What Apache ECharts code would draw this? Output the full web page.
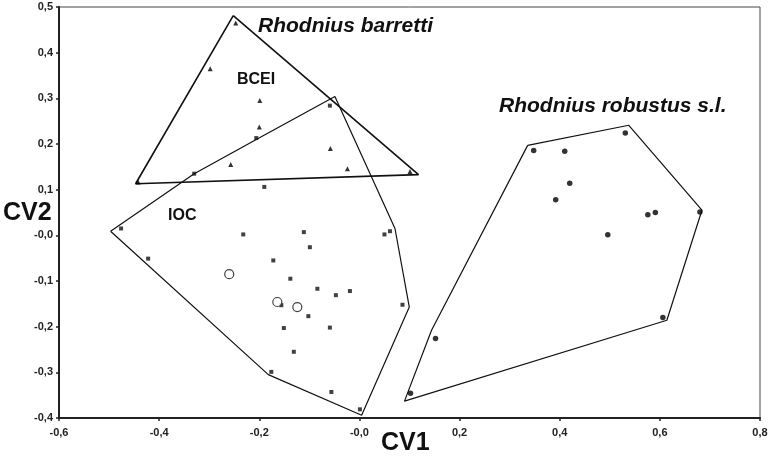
<!DOCTYPE html>
<html>
<head>
<meta charset="utf-8">
<script src="https://cdn.jsdelivr.net/npm/echarts@6/dist/echarts.min.js"></script>
<style>html,body{margin:0;padding:0;background:#fff;}#c{width:771px;height:459px;}</style>
</head>
<body>
<div id="c"></div>
<script>
// Axis ticks
const xTicks = [-0.6, -0.4, -0.2, 0, 0.2, 0.4, 0.6, 0.8];
const yTicks = [-0.4, -0.3, -0.2, -0.1, 0, 0.1, 0.2, 0.3, 0.4, 0.5];

// Group points [CV1, CV2]
const bceiPoints = [[-0.247,0.465],[-0.298,0.365],[-0.199,0.295],[-0.200,0.237],[-0.257,0.155],[-0.442,0.117],[-0.058,0.190],[-0.024,0.146],[0.101,0.140]];
const iocPoints = [[-0.476,0.015],[-0.422,-0.051],[-0.232,0.002],[-0.190,0.106],[-0.172,-0.055],[-0.111,0.007],[-0.099,-0.026],[-0.138,-0.095],[-0.084,-0.117],[-0.047,-0.131],[-0.019,-0.122],[-0.156,-0.153],[-0.102,-0.177],[-0.151,-0.203],[-0.059,-0.202],[-0.131,-0.255],[-0.176,-0.299],[-0.056,-0.343],[0.001,-0.381],[0.050,0.002],[0.061,0.009],[0.086,-0.152],[-0.059,0.284],[-0.330,0.135],[-0.206,0.213]];
const openPoints = [[-0.260,-0.085],[-0.164,-0.146],[-0.124,-0.157]];
const robustusPoints = [[0.348,0.186],[0.410,0.184],[0.531,0.224],[0.420,0.114],[0.392,0.078],[0.576,0.045],[0.591,0.050],[0.680,0.051],[0.496,0.0015],[0.606,-0.180],[0.152,-0.226],[0.102,-0.346]];

// Hull outlines
const barrettiHull = [[-0.252,0.481],[0.118,0.133],[-0.447,0.113]];
const iocHull = [[-0.497,0.009],[-0.330,0.135],[-0.206,0.210],[-0.049,0.304],[0.071,0.015],[0.0996,-0.157],[0.0044,-0.394],[-0.182,-0.305]];
const robustusHull = [[0.336,0.197],[0.538,0.241],[0.684,0.055],[0.614,-0.186],[0.090,-0.363],[0.144,-0.208]];

const closeLoop = a => a.concat([a[0]]);
const fmt = v => {
  const r = Math.round(v * 10) / 10;
  if (r === 0) return '-0,0';
  return r.toFixed(1).replace('.', ',');
};

const chart = echarts.init(document.getElementById('c'), null, {renderer: 'canvas'});
const font = 'Liberation Sans, Arial, sans-serif';
const labelStyle = {fontFamily: font, fontWeight: 'bold', fontSize: 11, color: '#222'};

function hullSeries(data, w) {
  return {type: 'line', data: closeLoop(data), symbol: 'none', silent: true,
    lineStyle: {color: '#111', width: w}, z: 2};
}

chart.setOption({
  animation: false,
  backgroundColor: '#fff',
  grid: {left: 59, right: 11, top: 7, bottom: 41, show: true, borderColor: '#444', borderWidth: 1},
  xAxis: {
    type: 'value', min: -0.6, max: 0.8, interval: 0.2,
    axisLine: {show: true, onZero: false, lineStyle: {color: '#222', width: 2}},
    axisTick: {show: true, length: 3, lineStyle: {color: '#222', width: 1.5}},
    axisLabel: Object.assign({margin: 9, formatter: fmt}, labelStyle),
    splitLine: {show: false}
  },
  yAxis: {
    type: 'value', min: -0.4, max: 0.5, interval: 0.1,
    axisLine: {show: true, onZero: false, lineStyle: {color: '#222', width: 2}},
    axisTick: {show: true, length: 3, lineStyle: {color: '#222', width: 1.5}},
    axisLabel: Object.assign({margin: 6, formatter: fmt}, labelStyle),
    splitLine: {show: false}
  },
  series: [
    hullSeries(barrettiHull, 1.6),
    hullSeries(iocHull, 1.2),
    hullSeries(robustusHull, 1.2),
    {type: 'scatter', data: bceiPoints, symbol: 'triangle', symbolSize: 5, itemStyle: {color: '#000'}, z: 3},
    {type: 'scatter', data: iocPoints, symbol: 'rect', symbolSize: 4, itemStyle: {color: '#111'}, z: 3},
    {type: 'scatter', data: openPoints, symbol: 'circle', symbolSize: 9, itemStyle: {color: '#fff', borderColor: '#111', borderWidth: 1.2}, z: 4},
    {type: 'scatter', data: robustusPoints, symbol: 'circle', symbolSize: 5.5, itemStyle: {color: '#000'}, z: 3}
  ],
  graphic: [
    {type: 'text', left: 258, top: 16, style: {text: 'Rhodnius barretti', font: 'italic bold 21px ' + font, fill: '#111'}},
    {type: 'text', left: 499, top: 96, style: {text: 'Rhodnius robustus s.l.', font: 'italic bold 21px ' + font, fill: '#111'}},
    {type: 'text', left: 237, top: 72, style: {text: 'BCEI', font: 'bold 16px ' + font, fill: '#111'}},
    {type: 'text', left: 168, top: 208, style: {text: 'IOC', font: 'bold 16px ' + font, fill: '#111'}},
    {type: 'text', left: 3, top: 201, style: {text: 'CV2', font: 'bold 25px ' + font, fill: '#111'}},
    {type: 'text', left: 381, top: 431, style: {text: 'CV1', font: 'bold 25px ' + font, fill: '#111'}}
  ]
});
</script>
</body>
</html>
